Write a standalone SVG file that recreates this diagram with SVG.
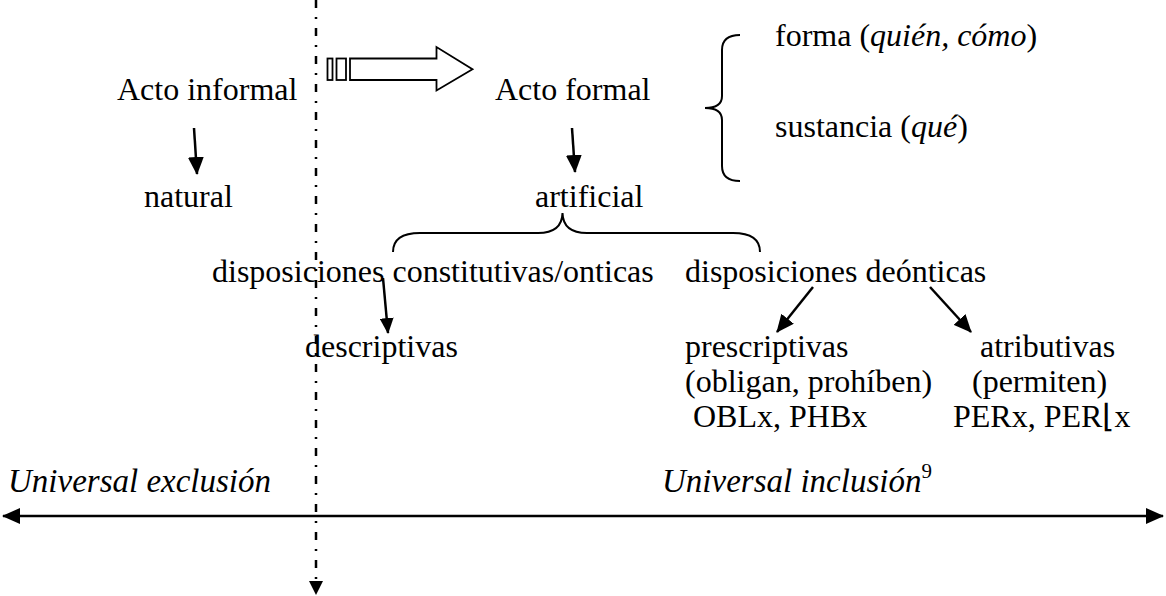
<svg xmlns="http://www.w3.org/2000/svg" width="1166" height="596" viewBox="0 0 1166 596">
<defs>
<style>
text{font-family:"Liberation Serif","Times New Roman",serif;font-size:32px;fill:#000}
.it{font-style:italic}
.big{font-size:33px}
.ln{stroke:#000;stroke-width:2.5;fill:none}
.br{stroke:#000;stroke-width:2;fill:none}
</style>
<marker id="ah" markerUnits="userSpaceOnUse" markerWidth="18" markerHeight="16" refX="17" refY="8" orient="auto-start-reverse" viewBox="0 0 18 16">
<path d="M0,0 L18,8 L0,16 z" fill="#000"/>
</marker>
<marker id="ahs" markerUnits="userSpaceOnUse" markerWidth="16" markerHeight="14" refX="15" refY="7" orient="auto" viewBox="0 0 16 14">
<path d="M0,0 L16,7 L0,14 z" fill="#000"/>
</marker>
</defs>
<rect width="1166" height="596" fill="#fff"/>

<g id="connectors">
<line class="ln" x1="316" y1="0" x2="316" y2="584" stroke-dasharray="8 9 2 9"/>
<path d="M309,581 L323,581 L316,595 z" fill="#000"/>
<line class="ln" x1="3" y1="516" x2="1163" y2="516" marker-start="url(#ah)" marker-end="url(#ah)"/>
<line class="ln" x1="194" y1="128" x2="197" y2="174" marker-end="url(#ah)"/>
<line class="ln" x1="572" y1="128" x2="575" y2="172" marker-end="url(#ah)"/>
<line class="ln" x1="383" y1="278" x2="388" y2="333" marker-end="url(#ahs)"/>
<line class="ln" x1="813" y1="287" x2="777" y2="332" marker-end="url(#ah)"/>
<line class="ln" x1="930" y1="287" x2="971" y2="332" marker-end="url(#ah)"/>
<g id="block-arrow" stroke="#000" stroke-width="1.8" fill="#fff">
<rect x="327.5" y="58.5" width="5" height="21.5"/>
<rect x="336.5" y="58.5" width="9.5" height="21.5"/>
<path d="M350,58.5 L436.5,58.5 L436.5,47 L472.5,69.3 L436.5,90.5 L436.5,80 L350,80 z"/>
</g>
<path class="br" d="M740,35 Q722,35 722,50 L722,96 Q722,108 705,108 Q722,108 722,120 L722,166 Q722,181 740,181"/>
<path class="br" d="M393,252 Q393,233 420,233 L538,233 Q562,233 562.5,213 Q563,233 587,233 L733,233 Q760,233 760,252"/>
</g>

<g id="n-acto-informal"><text x="117" y="100">Acto informal</text></g>
<g id="n-natural"><text x="144" y="207">natural</text></g>
<g id="n-acto-formal"><text x="495" y="100">Acto formal</text></g>
<g id="n-artificial"><text x="535" y="207">artificial</text></g>
<g id="n-forma"><text x="775" y="46">forma (<tspan class="it">quién, cómo</tspan>)</text></g>
<g id="n-sustancia"><text x="775" y="137">sustancia (<tspan class="it">qué</tspan>)</text></g>
<g id="n-constitutivas"><text x="212" y="282">disposiciones constitutivas/onticas</text></g>
<g id="n-deonticas"><text x="685" y="282">disposiciones deónticas</text></g>
<g id="n-descriptivas"><text x="305" y="357">descriptivas</text></g>
<g id="n-prescriptivas">
<text x="685" y="357">prescriptivas</text>
<text x="685" y="392">(obligan, prohíben)</text>
<text x="693" y="427">OBLx, PHBx</text>
</g>
<g id="n-atributivas">
<text x="980" y="357">atributivas</text>
<text x="972" y="392">(permiten)</text>
<text x="953" y="427">PERx, PER⌊x</text>
</g>
<g id="n-exclusion"><text class="it big" x="8" y="492">Universal exclusión</text></g>
<g id="n-inclusion"><text class="it big" x="662" y="492">Universal inclusión<tspan dy="-14" style="font-size:21px;font-style:normal">9</tspan></text></g>
</svg>
